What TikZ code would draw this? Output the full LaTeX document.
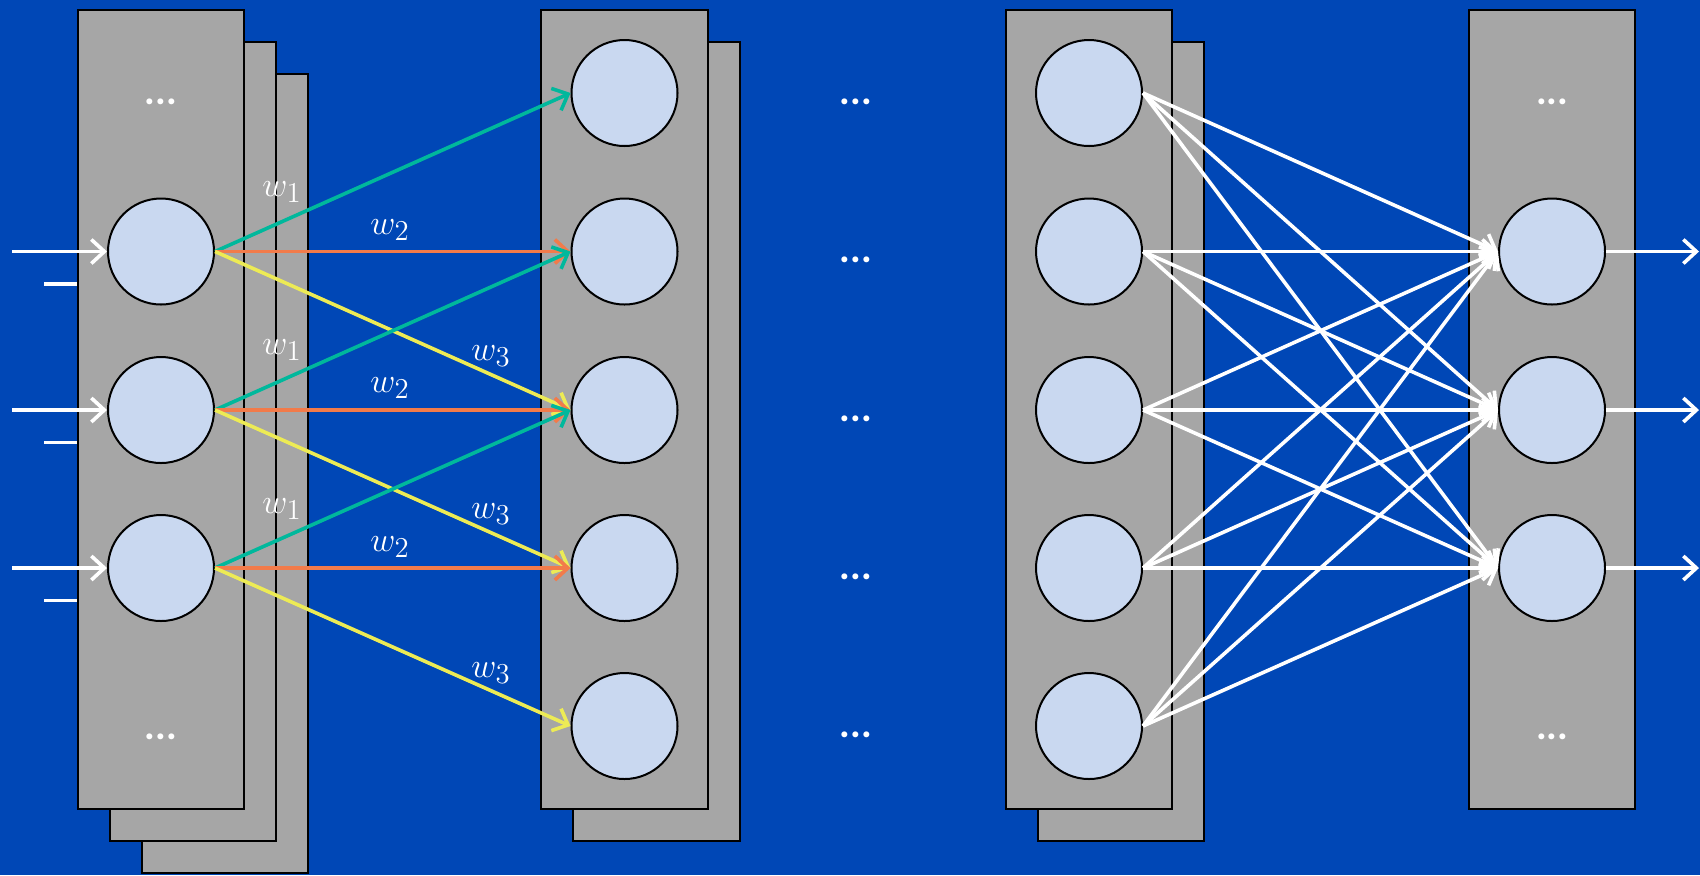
\documentclass[tikz,border=0pt]{standalone}
\usepackage{fontspec}
\newfontfamily\dotsfont{Carlito}
\usetikzlibrary{arrows.meta}
\definecolor{bg}{HTML}{0047B6}
\definecolor{layergray}{HTML}{A6A6A6}
\definecolor{neuronfill}{HTML}{C9D8F0}
\definecolor{cteal}{HTML}{00B89C}
\definecolor{corange}{HTML}{F27B4A}
\definecolor{cyellow}{HTML}{EDEB55}
\tikzset{
  layer/.style={fill=layergray, draw=black, line width=1pt},
  neuron/.style={circle, fill=neuronfill, draw=black, line width=1pt, minimum size=53pt, inner sep=0pt},
  conn/.style={line width=1.8pt, -{Straight Barb[length=6.5pt,width=12pt]}},
  wlabel/.style={text=white, font=\fontsize{19}{21}\selectfont, inner sep=0pt},
  dotlabel/.style={text=white, font=\dotsfont\bfseries\fontsize{20}{22}\selectfont, inner sep=0pt, anchor=base},
  stub/.style={white, line width=1.8pt}
}
\begin{document}
\begin{tikzpicture}[x=0.5pt,y=-0.5pt]
\fill[bg] (0,0) rectangle (1700,875);
\useasboundingbox (0,0) rectangle (1700,875);

% layer rectangles
\draw[layer] (142,74) rectangle (308,873);
\draw[layer] (110,42) rectangle (276,841);
\draw[layer] (78,10) rectangle (244,809);
\draw[layer] (573,42) rectangle (740,841);
\draw[layer] (541,10) rectangle (708,809);
\draw[layer] (1038,42) rectangle (1204,841);
\draw[layer] (1006,10) rectangle (1172,809);
\draw[layer] (1469,10) rectangle (1635,809);

% neurons
\foreach \i/\y in {1/251.5,2/410,3/568}{
  \node[neuron] (a\i) at (161,\y) {};
  \node[neuron] (d\i) at (1552,\y) {};
}
\foreach \i/\y in {1/93,2/251.5,3/410,4/568,5/726}{
  \node[neuron] (b\i) at (624.5,\y) {};
  \node[neuron] (c\i) at (1089,\y) {};
  \node[dotlabel] (m\i) at (856,\y+11) {...};
}
\node[dotlabel] (ta) at (161,104) {...};
\node[dotlabel] (ba) at (161,739) {...};
\node[dotlabel] (td) at (1552,104) {...};
\node[dotlabel] (bd) at (1552,739) {...};

% inputs and stubs
\foreach \i/\y in {1/251.5,2/410,3/568}{
  \coordinate (in\i) at (12,\y);
  \draw[conn, white] (in\i) -- (a\i.west);
  \coordinate (s\i a) at (44,\y+32.5);
  \coordinate (s\i b) at (77,\y+32.5);
  \draw[stub] (s\i a) -- (s\i b);
  \coordinate (out\i) at (1699,\y);
  \draw[conn, white] (d\i.east) -- (out\i);
}

% weighted connections
\foreach \i/\j/\k/\l in {1/1/2/3,2/2/3/4,3/3/4/5}{
  \draw[conn, cteal] (a\i.east) -- (b\j.west);
  \draw[conn, corange] (a\i.east) -- (b\k.west);
  \draw[conn, cyellow] (a\i.east) -- (b\l.west);
}

% labels
\foreach \y in {0,158,317}{
  \node[wlabel] at (282,192+\y) {$w_1$};
  \node[wlabel] at (390,230+\y) {$w_2$};
  \node[wlabel] at (491,356+\y) {$w_3$};
}

% full connection
\foreach \i in {1,...,5}{
  \foreach \j in {1,2,3}{
    \draw[conn, white] (c\i.east) -- (d\j.west);
  }
}
\end{tikzpicture}
\end{document}
